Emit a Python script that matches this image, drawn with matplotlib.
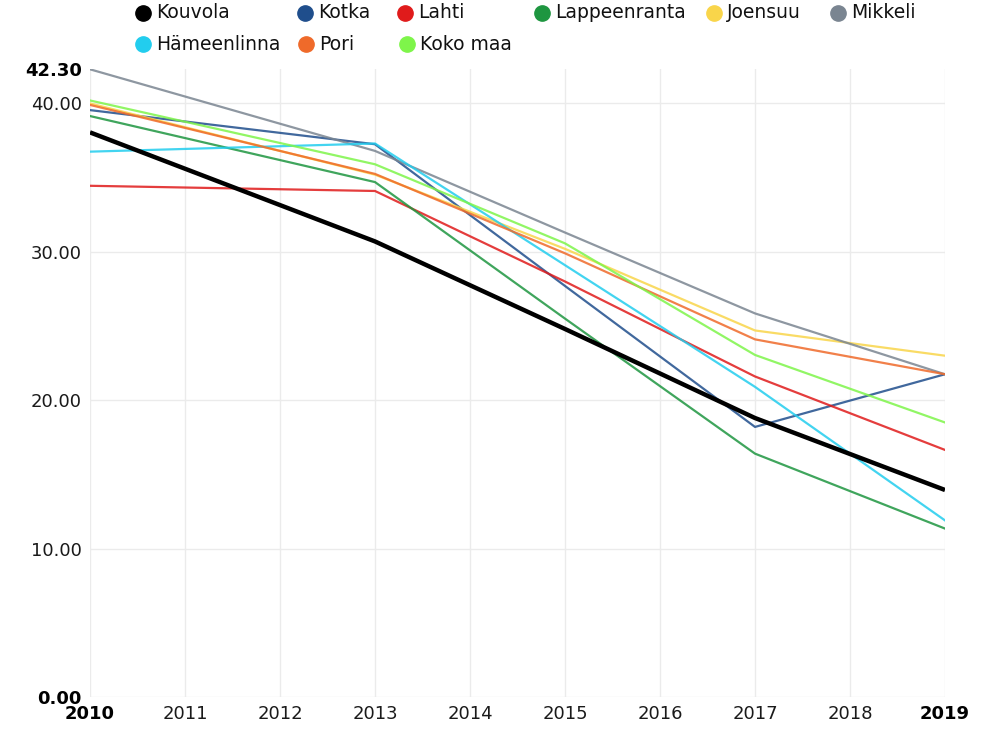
import matplotlib
matplotlib.use("Agg")
import matplotlib.pyplot as plt
from matplotlib.lines import Line2D

years = [2010, 2013, 2015, 2017, 2019]
kouvola = [38.05, 30.7, 24.8, 18.8, 13.95]
kotka = [39.55, 37.25, 27.7, 18.2, 21.75]
lahti = [34.45, 34.1, 28.0, 21.6, 16.65]
lappeenranta = [39.15, 34.7, 25.5, 16.4, 11.35]
joensuu = [40.0, 35.2, 30.2, 24.7, 23.0]
mikkeli = [42.3, 36.8, 31.3, 25.85, 21.75]
hameenlinna = [36.75, 37.3, 29.1, 20.9, 11.9]
pori = [39.9, 35.25, 29.9, 24.1, 21.75]
koko_maa = [40.2, 35.9, 30.57, 23.05, 18.5]

series_names = ["Kouvola", "Kotka", "Lahti", "Lappeenranta", "Joensuu", "Mikkeli",
                "Hämeenlinna", "Pori", "Koko maa"]
series_values = [kouvola, kotka, lahti, lappeenranta, joensuu, mikkeli,
                 hameenlinna, pori, koko_maa]
colors = ["#000000", "#1f4e8c", "#e01b1b", "#1e9640", "#f9d54a", "#7a8591",
          "#22cdee", "#ef6a2a", "#7ef54a"]

x_ticks = list(range(2010, 2020))
y_ticks = [0, 10, 20, 30, 40, 42.3]
grid_y = [0, 10, 20, 30, 40]

W, H = 992, 730
fig = plt.figure(figsize=(W / 100, H / 100), dpi=100)
ax = fig.add_axes([90 / W, 1 - 697 / H, (945 - 90) / W, (697 - 69.3) / H])

for gy in grid_y:
    ax.axhline(gy, color="#ebebeb", lw=1.0, zorder=0)
for gx in x_ticks:
    ax.axvline(gx, color="#ebebeb", lw=1.0, zorder=0)

for name, vals, c in zip(series_names, series_values, colors):
    if name == "Kouvola":
        ax.plot(years, vals, color=c, lw=3.2, zorder=5, solid_capstyle="butt")
    else:
        ax.plot(years, vals, color=c, lw=1.6, alpha=0.85, zorder=3)

ax.set_xlim(2010, 2019)
ax.set_ylim(0, 42.3)
for s in ax.spines.values():
    s.set_visible(False)

ax.set_xticks(x_ticks)
ax.set_xticklabels([str(x) for x in x_ticks], fontsize=13, color="#1a1a1a")
ax.set_yticks(y_ticks)
ax.set_yticklabels(["%.2f" % v for v in y_ticks], fontsize=13, color="#1a1a1a")
ax.tick_params(axis="both", length=0)
ax.tick_params(axis="x", pad=6)
ax.tick_params(axis="y", pad=6)
xl = ax.get_xticklabels()
xl[0].set_fontweight("bold"); xl[-1].set_fontweight("bold")
xl[0].set_color("#000000"); xl[-1].set_color("#000000")
yl = ax.get_yticklabels()
yl[0].set_fontweight("bold"); yl[-1].set_fontweight("bold")
yl[0].set_color("#000000"); yl[-1].set_color("#000000")

# legend (manual layout)
leg_pos = [(143, 13), (305, 13), (405, 13), (542, 13), (714, 13), (838, 13),
           (143, 44), (306, 44), (407, 44)]
for (px, py), name, c in zip(leg_pos, series_names, colors):
    fig.add_artist(Line2D([px / W], [1 - py / H], marker="o", markersize=11,
                          color=c, markeredgecolor=c, linestyle="none",
                          transform=fig.transFigure))
    fig.text((px + 13) / W, 1 - py / H, name, fontsize=13.5, color="#111111",
             va="center", ha="left")

fig.savefig("out.png", dpi=100, facecolor="white")
